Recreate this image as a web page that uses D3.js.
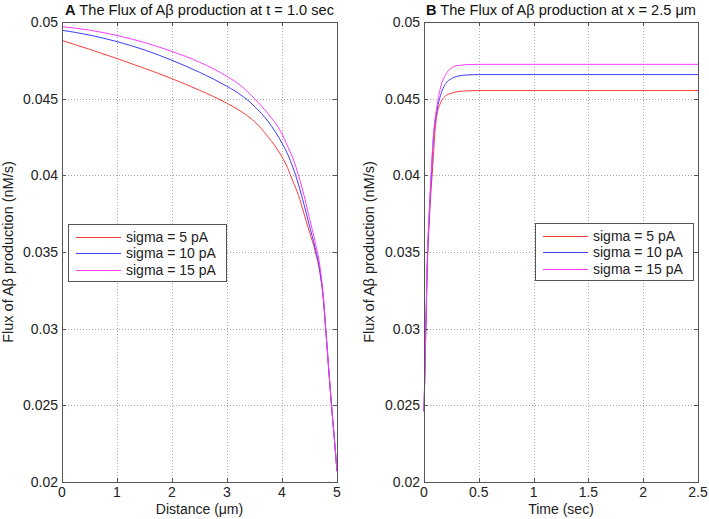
<!DOCTYPE html>
<html><head><meta charset="utf-8">
<script src="https://cdn.jsdelivr.net/npm/d3@7"></script>
<style>
body{margin:0;background:#fff;}
svg text{font-family:"Liberation Sans",Arial,sans-serif;}
</style></head>
<body><svg id="c" width="709" height="519"></svg>
<script>
// ---------- data ----------
const seriesNames = ["sigma = 5 pA", "sigma = 10 pA", "sigma = 15 pA"];
const seriesColors = ["#ff3c3c", "#3c3cff", "#ff3cff"];

// Panel A: flux vs distance at t = 1.0 sec
const distance = [0, 0.5, 1, 1.5, 2, 2.5, 3, 3.25, 3.5, 3.75, 4, 4.1, 4.2, 4.3, 4.4, 4.5, 4.6, 4.7, 4.75, 4.8, 4.85, 4.9, 4.95, 5];
const fluxA_5  = [0.0488, 0.04822, 0.04762, 0.04698, 0.0463, 0.04555, 0.0447, 0.04418, 0.0435, 0.0425, 0.0412, 0.0405, 0.0396, 0.0387, 0.0375, 0.0363, 0.0351, 0.0334, 0.0320, 0.0297, 0.0273, 0.0250, 0.0229, 0.0207];
const fluxA_10 = [0.04946, 0.04915, 0.04872, 0.04818, 0.0475, 0.04672, 0.0458, 0.04525, 0.0445, 0.0435, 0.0421, 0.0414, 0.0405, 0.0394, 0.0381, 0.0367, 0.0353, 0.0335, 0.0320, 0.0297, 0.0273, 0.0250, 0.0229, 0.0207];
const fluxA_15 = [0.0497, 0.04947, 0.04912, 0.04866, 0.04808, 0.04738, 0.04645, 0.04585, 0.0450, 0.0440, 0.0427, 0.0419, 0.0411, 0.0400, 0.0387, 0.0372, 0.0357, 0.0338, 0.0322, 0.0298, 0.0274, 0.0250, 0.0229, 0.0207];

// Panel B: flux vs time at x = 2.5 um
const time = [0, 0.01, 0.02, 0.03, 0.04, 0.05, 0.06, 0.07, 0.08, 0.1, 0.12, 0.15, 0.2, 0.25, 0.3, 0.4, 0.5, 1, 1.5, 2, 2.5];
const fluxB_5  = [0.0246, 0.0278, 0.0309, 0.0340, 0.0358, 0.0372, 0.0385, 0.0396, 0.0406, 0.0428, 0.0440, 0.0447, 0.0452, 0.04535, 0.04545, 0.04551, 0.04553, 0.04553, 0.04553, 0.04553, 0.04553];
const fluxB_10 = [0.0246, 0.0279, 0.0311, 0.0343, 0.0362, 0.0377, 0.0391, 0.0403, 0.0418, 0.0434, 0.0443, 0.0452, 0.0460, 0.0463, 0.04645, 0.04655, 0.04657, 0.04657, 0.04657, 0.04657, 0.04657];
const fluxB_15 = [0.0246, 0.0280, 0.0312, 0.0345, 0.0365, 0.0380, 0.0395, 0.0408, 0.0420, 0.0436, 0.0446, 0.0457, 0.0466, 0.0470, 0.04715, 0.04722, 0.04724, 0.04724, 0.04724, 0.04724, 0.04724];

const yTicks = [0.02, 0.025, 0.03, 0.035, 0.04, 0.045, 0.05];
const yTickLabels = ["0.02", "0.025", "0.03", "0.035", "0.04", "0.045", "0.05"];
const xTicksA = [0, 1, 2, 3, 4, 5];
const xTickLabelsA = ["0", "1", "2", "3", "4", "5"];
const xTicksB = [0, 0.5, 1, 1.5, 2, 2.5];
const xTickLabelsB = ["0", "0.5", "1", "1.5", "2", "2.5"];

// ---------- drawing ----------
const svg = d3.select("#c");
const plotTop = 22, plotBottom = 482;
const axisColor = "#555";
const fs = 14;

function panel(opt) {
  const x = d3.scaleLinear().domain(opt.xDomain).range([opt.x0, opt.x1]);
  const y = d3.scaleLinear().domain([0.02, 0.05]).range([plotBottom, plotTop]);
  const g = svg.append("g");

  // grid
  g.selectAll(".gx").data(opt.xTicks.slice(1, -1)).join("line")
    .attr("x1", d => Math.round(x(d)) + 0.5).attr("x2", d => Math.round(x(d)) + 0.5)
    .attr("y1", plotTop).attr("y2", plotBottom)
    .attr("stroke", "#aaa").attr("stroke-dasharray", "1,2");
  g.selectAll(".gy").data(yTicks.slice(1, -1)).join("line")
    .attr("y1", d => Math.round(y(d)) + 0.5).attr("y2", d => Math.round(y(d)) + 0.5)
    .attr("x1", opt.x0).attr("x2", opt.x1)
    .attr("stroke", "#aaa").attr("stroke-dasharray", "1,2");

  // curves
  const line = d3.line().curve(d3.curveMonotoneX).x((d, i) => x(opt.xs[i])).y(d => y(d));
  opt.series.forEach((s, k) => {
    g.append("path").datum(s).attr("d", line)
      .attr("fill", "none").attr("stroke", seriesColors[k]).attr("stroke-width", 1);
  });

  // box
  g.append("rect").attr("x", opt.x0 + 0.5).attr("y", plotTop + 0.5)
    .attr("width", opt.x1 - opt.x0).attr("height", plotBottom - plotTop)
    .attr("fill", "none").attr("stroke", axisColor);

  // ticks (inward, all sides)
  const tl = 4;
  opt.xTicks.forEach(t => {
    const px = Math.round(x(t)) + 0.5;
    g.append("line").attr("x1", px).attr("x2", px).attr("y1", plotBottom).attr("y2", plotBottom - tl).attr("stroke", axisColor);
    g.append("line").attr("x1", px).attr("x2", px).attr("y1", plotTop).attr("y2", plotTop + tl).attr("stroke", axisColor);
  });
  yTicks.forEach(t => {
    const py = Math.round(y(t)) + 0.5;
    g.append("line").attr("y1", py).attr("y2", py).attr("x1", opt.x0).attr("x2", opt.x0 + tl).attr("stroke", axisColor);
    g.append("line").attr("y1", py).attr("y2", py).attr("x1", opt.x1).attr("x2", opt.x1 - tl).attr("stroke", axisColor);
  });

  // tick labels
  g.selectAll(".xl").data(opt.xTicks).join("text")
    .attr("x", d => x(d)).attr("y", plotBottom + 15).attr("text-anchor", "middle")
    .attr("font-size", fs).attr("fill", "#222").text((d, i) => opt.xTickLabels[i]);
  g.selectAll(".yl").data(yTicks).join("text")
    .attr("x", opt.x0 - 4).attr("y", d => y(d) + 5).attr("text-anchor", "end")
    .attr("font-size", fs).attr("fill", "#222").text((d, i) => yTickLabels[i]);

  // axis titles
  g.append("text").attr("x", (opt.x0 + opt.x1) / 2).attr("y", 514)
    .attr("text-anchor", "middle").attr("font-size", fs).attr("fill", "#222").text(opt.xLabel);
  g.append("text").attr("transform", `translate(${opt.yLabelX},${(plotTop + plotBottom) / 2}) rotate(-90)`)
    .attr("text-anchor", "middle").attr("font-size", 14.5).attr("fill", "#222").text("Flux of Aβ production (nM/s)");

  // title
  const tt = g.append("text").attr("x", (opt.x0 + opt.x1) / 2).attr("y", 15)
    .attr("text-anchor", "middle").attr("font-size", 14.6).attr("fill", "#111");
  tt.append("tspan").attr("font-weight", "bold").text(opt.letter);
  tt.append("tspan").text(" " + opt.title);

  // legend
  const lg = g.append("g");
  lg.append("rect").attr("x", opt.legX + 0.5).attr("y", opt.legY + 0.5)
    .attr("width", 158).attr("height", 57).attr("fill", "#fff").attr("stroke", axisColor);
  seriesNames.forEach((n, k) => {
    const cy = opt.legY + 12.5 + k * 16.5;
    lg.append("line").attr("x1", opt.legX + 8).attr("x2", opt.legX + 53)
      .attr("y1", Math.round(cy) + 0.5).attr("y2", Math.round(cy) + 0.5)
      .attr("stroke", seriesColors[k]).attr("stroke-width", 1);
    lg.append("text").attr("x", opt.legX + 58).attr("y", cy + 5)
      .attr("font-size", fs).attr("fill", "#222").text(n);
  });
}

panel({
  x0: 62, x1: 337, xDomain: [0, 5], xs: distance,
  series: [fluxA_5, fluxA_10, fluxA_15],
  xTicks: xTicksA, xTickLabels: xTickLabelsA,
  xLabel: "Distance (μm)", yLabelX: 13, letter: "A",
  title: "The Flux of Aβ production at t = 1.0 sec",
  legX: 68, legY: 224
});
panel({
  x0: 424, x1: 698, xDomain: [0, 2.5], xs: time,
  series: [fluxB_5, fluxB_10, fluxB_15],
  xTicks: xTicksB, xTickLabels: xTickLabelsB,
  xLabel: "Time (sec)", yLabelX: 374, letter: "B",
  title: "The Flux of Aβ production at x = 2.5 μm",
  legX: 535, legY: 223
});
</script></body></html>
